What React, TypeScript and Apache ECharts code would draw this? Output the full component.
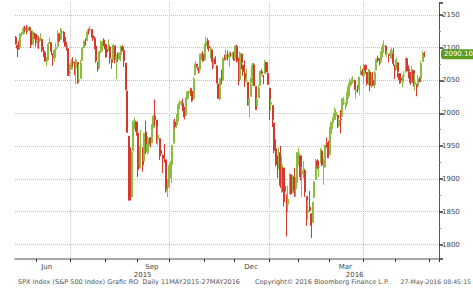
import React, { useEffect, useRef } from "react";
import * as echarts from "echarts";

const FONT = "DejaVu Sans";

// Trading days shown (month -> days)
const tradingDays: [string, number[]][] = [
  ["2015-05", [11, 12, 13, 14, 15, 18, 19, 20, 21, 22, 26, 27, 28, 29]],
  ["2015-06", [1, 2, 3, 4, 5, 8, 9, 10, 11, 12, 15, 16, 17, 18, 19, 22, 23, 24, 25, 26, 29, 30]],
  ["2015-07", [1, 2, 6, 7, 8, 9, 10, 13, 14, 15, 16, 17, 20, 21, 22, 23, 24, 27, 28, 29, 30, 31]],
  ["2015-08", [3, 4, 5, 6, 7, 10, 11, 12, 13, 14, 17, 18, 19, 20, 21, 24, 25, 26, 27, 28, 31]],
  ["2015-09", [1, 2, 3, 4, 8, 9, 10, 11, 14, 15, 16, 17, 18, 21, 22, 23, 24, 25, 28, 29, 30]],
  ["2015-10", [1, 2, 5, 6, 7, 8, 9, 12, 13, 14, 15, 16, 19, 20, 21, 22, 23, 26, 27, 28, 29, 30]],
  ["2015-11", [2, 3, 4, 5, 6, 9, 10, 11, 12, 13, 16, 17, 18, 19, 20, 23, 24, 25, 27, 30]],
  ["2015-12", [1, 2, 3, 4, 7, 8, 9, 10, 11, 14, 15, 16, 17, 18, 21, 22, 23, 24, 28, 29, 30, 31]],
  ["2016-01", [4, 5, 6, 7, 8, 11, 12, 13, 14, 15, 19, 20, 21, 22, 25, 26, 27, 28, 29]],
  ["2016-02", [1, 2, 3, 4, 5, 8, 9, 10, 11, 12, 16, 17, 18, 19, 22, 23, 24, 25, 26, 29]],
  ["2016-03", [1, 2, 3, 4, 7, 8, 9, 10, 11, 14, 15, 16, 17, 18, 21, 22, 23, 24, 28, 29, 30, 31]],
  ["2016-04", [1, 4, 5, 6, 7, 8, 11, 12, 13, 14, 15, 18, 19, 20, 21, 22, 25, 26, 27, 28, 29]],
  ["2016-05", [2, 3, 4, 5, 6, 9, 10, 11, 12, 13, 16, 17, 18, 19, 20, 23, 24, 25, 26]],
];

// Empty days kept at the right end of the axis
const futureDays: [string, number[]][] = [
  ["2016-05", [27, 30, 31]],
  ["2016-06", [1, 2, 3, 6, 7, 8]],
];

// [open, close, low, high]
const ohlc: number[][] = [
  // May 2015
  [2115.6, 2105.3, 2104.9, 2117.7], [2102.9, 2099.1, 2085.7, 2105.1], [2099.6, 2098.5, 2096.3, 2110.2],
  [2100.4, 2121.1, 2100.4, 2121.5], [2122.1, 2122.7, 2117.3, 2123.9], [2121.3, 2129.2, 2119.6, 2131.8],
  [2129.4, 2127.8, 2124.1, 2133.0], [2127.8, 2125.9, 2120.7, 2134.7], [2125.6, 2130.8, 2123.9, 2133.0],
  [2130.4, 2126.1, 2126.1, 2132.2], [2125.3, 2104.2, 2099.2, 2125.3], [2105.1, 2123.5, 2105.1, 2126.2],
  [2122.3, 2120.8, 2112.8, 2122.3], [2120.7, 2107.4, 2101.4, 2120.7],
  // Jun
  [2108.6, 2111.7, 2099.1, 2119.2], [2110.4, 2109.6, 2098.0, 2117.6], [2110.6, 2114.1, 2110.6, 2121.9],
  [2112.4, 2095.8, 2093.2, 2112.9], [2095.1, 2092.8, 2085.7, 2101.0], [2092.3, 2079.3, 2079.0, 2093.0],
  [2079.1, 2080.2, 2072.1, 2085.6], [2081.1, 2105.2, 2081.1, 2108.5], [2106.2, 2108.9, 2106.2, 2115.0],
  [2107.4, 2094.1, 2088.9, 2107.4], [2091.3, 2084.4, 2072.5, 2091.3], [2084.3, 2096.3, 2079.0, 2097.4],
  [2097.4, 2100.4, 2088.5, 2106.8], [2101.6, 2121.2, 2101.6, 2126.6], [2121.1, 2110.0, 2108.0, 2121.9],
  [2112.5, 2122.9, 2112.5, 2129.9], [2123.2, 2124.2, 2118.9, 2128.0], [2123.6, 2108.6, 2108.3, 2125.1],
  [2109.1, 2102.3, 2101.8, 2116.0], [2102.6, 2101.5, 2095.4, 2108.9], [2098.6, 2057.6, 2056.6, 2098.6],
  [2061.2, 2063.1, 2056.3, 2074.3],
  // Jul
  [2067.0, 2077.4, 2067.0, 2082.8], [2078.0, 2076.8, 2071.4, 2085.1], [2073.0, 2068.8, 2058.4, 2078.6],
  [2069.5, 2081.3, 2044.0, 2083.7], [2077.7, 2046.7, 2044.7, 2077.7], [2049.7, 2051.3, 2049.7, 2074.3],
  [2052.7, 2076.6, 2052.7, 2081.3], [2080.0, 2099.6, 2080.0, 2100.7], [2099.7, 2108.9, 2099.7, 2111.0],
  [2109.0, 2107.4, 2102.7, 2114.1], [2110.5, 2124.3, 2110.5, 2124.4], [2126.8, 2126.6, 2119.9, 2128.9],
  [2126.9, 2128.3, 2124.7, 2132.8], [2127.6, 2119.2, 2115.4, 2128.4], [2118.2, 2114.2, 2110.1, 2118.5],
  [2114.2, 2102.2, 2097.6, 2116.9], [2102.2, 2079.7, 2077.1, 2106.0], [2078.2, 2067.6, 2063.5, 2078.2],
  [2070.0, 2093.3, 2069.1, 2095.6], [2094.0, 2108.6, 2091.5, 2110.6], [2106.8, 2108.6, 2094.1, 2110.5],
  [2111.6, 2104.0, 2102.2, 2114.2],
  // Aug
  [2104.5, 2098.0, 2085.0, 2105.7], [2097.7, 2093.3, 2085.0, 2102.5], [2095.3, 2099.8, 2095.3, 2112.7],
  [2100.9, 2083.6, 2075.5, 2103.3], [2082.6, 2077.6, 2067.9, 2082.6], [2081.0, 2104.2, 2081.0, 2105.4],
  [2102.7, 2084.1, 2076.1, 2102.7], [2081.1, 2086.1, 2052.1, 2089.1], [2086.2, 2083.4, 2078.1, 2092.9],
  [2083.2, 2091.5, 2080.7, 2092.5], [2089.7, 2102.4, 2079.3, 2102.9], [2101.1, 2096.9, 2094.1, 2103.5],
  [2095.7, 2079.6, 2070.5, 2096.2], [2076.6, 2035.7, 2035.7, 2076.6], [2034.1, 1971.0, 1970.9, 2034.1],
  [1965.2, 1893.2, 1867.0, 1965.2], [1898.1, 1867.6, 1867.1, 1948.0], [1872.8, 1940.5, 1872.8, 1943.1],
  [1942.8, 1987.7, 1942.8, 1989.6], [1986.1, 1988.9, 1975.2, 1993.5], [1986.7, 1972.2, 1966.0, 1982.2],
  // Sep
  [1970.1, 1913.9, 1903.1, 1970.1], [1916.5, 1948.9, 1916.5, 1948.9], [1950.8, 1951.1, 1944.2, 1975.0],
  [1947.8, 1921.2, 1911.2, 1947.8], [1927.3, 1969.4, 1927.3, 1970.4], [1971.5, 1942.0, 1937.9, 1988.6],
  [1941.6, 1952.3, 1937.2, 1965.3], [1951.5, 1961.1, 1939.2, 1961.1], [1963.1, 1953.0, 1948.3, 1963.1],
  [1955.1, 1978.1, 1955.1, 1983.2], [1978.0, 1995.3, 1978.0, 1997.3], [1995.3, 1990.2, 1980.9, 2020.9],
  [1989.7, 1958.0, 1953.7, 1989.7], [1960.8, 1967.0, 1951.3, 1979.6], [1961.4, 1942.7, 1929.2, 1961.4],
  [1943.2, 1938.8, 1934.3, 1949.5], [1934.8, 1932.2, 1908.9, 1937.2], [1935.9, 1931.3, 1924.9, 1952.9],
  [1929.2, 1881.8, 1879.2, 1929.2], [1881.9, 1884.1, 1872.0, 1899.5], [1887.1, 1920.0, 1887.1, 1920.5],
  // Oct
  [1919.7, 1923.8, 1900.7, 1927.2], [1921.8, 1951.4, 1893.7, 1951.4], [1954.3, 1987.1, 1954.3, 1989.2],
  [1986.6, 1979.9, 1976.4, 1991.6], [1982.3, 1995.8, 1977.7, 1999.3], [1994.0, 2013.4, 1987.5, 2016.5],
  [2013.7, 2014.9, 2005.9, 2020.1], [2015.7, 2017.5, 2010.9, 2018.7], [2015.0, 2003.7, 2003.4, 2022.3],
  [2003.7, 1994.2, 1990.7, 2009.6], [1996.5, 2023.9, 1996.5, 2024.2], [2024.4, 2033.1, 2020.5, 2033.5],
  [2031.7, 2033.7, 2022.3, 2034.5], [2033.1, 2030.8, 2026.6, 2039.1], [2033.5, 2018.9, 2017.2, 2038.0],
  [2021.9, 2052.5, 2021.9, 2055.2], [2058.2, 2075.2, 2058.2, 2079.7], [2075.1, 2071.2, 2069.1, 2075.1],
  [2068.8, 2065.9, 2060.6, 2070.4], [2066.5, 2090.4, 2061.5, 2090.4], [2088.4, 2089.4, 2081.4, 2092.5],
  [2090.0, 2079.4, 2079.1, 2094.3],
  // Nov
  [2080.8, 2104.1, 2080.8, 2106.2], [2102.6, 2109.8, 2097.1, 2116.5], [2110.6, 2102.3, 2097.8, 2114.6],
  [2101.7, 2099.9, 2094.3, 2108.8], [2098.6, 2099.2, 2083.7, 2101.9], [2096.6, 2078.6, 2066.7, 2096.6],
  [2077.2, 2081.7, 2069.3, 2083.7], [2083.4, 2075.0, 2074.9, 2086.9], [2072.3, 2046.0, 2045.7, 2072.3],
  [2044.6, 2023.0, 2022.0, 2044.6], [2022.1, 2053.2, 2019.4, 2053.2], [2053.7, 2050.4, 2044.0, 2066.7],
  [2051.0, 2083.6, 2051.0, 2085.3], [2083.7, 2081.2, 2080.8, 2089.1], [2082.8, 2089.2, 2082.8, 2097.1],
  [2089.4, 2086.6, 2080.4, 2095.6], [2084.4, 2089.1, 2070.3, 2094.1], [2089.3, 2088.9, 2086.1, 2093.0],
  [2088.8, 2090.1, 2082.9, 2093.3], [2091.0, 2080.4, 2080.3, 2093.8],
  // Dec
  [2082.9, 2102.6, 2082.9, 2103.4], [2101.7, 2079.5, 2077.1, 2104.3], [2080.7, 2049.6, 2042.4, 2085.0],
  [2051.2, 2091.7, 2051.2, 2093.8], [2090.4, 2077.1, 2066.8, 2090.4], [2073.4, 2063.6, 2056.8, 2073.9],
  [2061.2, 2047.6, 2040.0, 2080.3], [2047.9, 2052.2, 2047.9, 2067.7], [2047.3, 2012.4, 2012.0, 2047.3],
  [2013.4, 2021.9, 1993.3, 2022.9], [2025.6, 2043.4, 2025.6, 2053.9], [2046.5, 2073.1, 2042.2, 2076.7],
  [2073.8, 2041.9, 2041.7, 2076.4], [2040.8, 2005.6, 2005.6, 2040.8], [2010.3, 2021.2, 2010.3, 2022.9],
  [2023.2, 2039.0, 2023.2, 2042.7], [2042.2, 2064.3, 2042.2, 2064.7], [2063.5, 2061.0, 2058.7, 2067.4],
  [2057.8, 2056.5, 2044.2, 2057.8], [2060.5, 2078.4, 2060.5, 2081.6], [2077.3, 2063.4, 2062.5, 2077.3],
  [2060.6, 2043.9, 2043.6, 2062.5],
  // Jan 2016
  [2038.2, 2012.7, 1989.7, 2038.2], [2013.8, 2016.7, 2004.2, 2021.9], [2011.7, 1990.3, 1979.1, 2011.7],
  [1985.3, 1943.1, 1938.8, 1985.3], [1946.0, 1922.0, 1918.5, 1960.4], [1926.1, 1923.7, 1901.1, 1935.7],
  [1927.8, 1938.7, 1914.4, 1947.4], [1940.3, 1890.3, 1886.4, 1950.3], [1891.7, 1921.8, 1878.9, 1934.5],
  [1916.7, 1880.3, 1857.8, 1916.7], [1888.7, 1881.3, 1864.6, 1901.4], [1876.2, 1859.3, 1812.3, 1876.2],
  [1861.5, 1869.0, 1849.0, 1889.9], [1877.4, 1906.9, 1877.4, 1908.9], [1906.3, 1877.1, 1876.0, 1906.3],
  [1878.8, 1903.6, 1878.8, 1906.3], [1902.5, 1882.9, 1872.7, 1917.0], [1885.2, 1893.4, 1872.7, 1903.0],
  [1894.0, 1940.2, 1894.0, 1940.2],
  // Feb
  [1936.9, 1939.4, 1920.3, 1947.2], [1935.3, 1903.0, 1897.8, 1935.3], [1907.1, 1912.5, 1872.7, 1918.0],
  [1911.7, 1915.5, 1900.8, 1927.4], [1913.1, 1880.1, 1872.7, 1913.1], [1873.3, 1853.4, 1828.5, 1873.3],
  [1848.5, 1852.2, 1838.3, 1868.3], [1857.1, 1851.9, 1850.2, 1881.6], [1847.0, 1829.1, 1810.1, 1847.0],
  [1833.4, 1864.8, 1833.4, 1864.8], [1871.4, 1895.6, 1871.4, 1895.8], [1898.8, 1926.8, 1898.8, 1930.7],
  [1927.6, 1917.8, 1915.1, 1930.0], [1916.7, 1917.8, 1902.8, 1918.8], [1924.4, 1945.5, 1924.4, 1946.7],
  [1942.4, 1921.3, 1919.4, 1942.4], [1917.6, 1929.8, 1891.0, 1932.1], [1931.9, 1951.7, 1917.7, 1951.8],
  [1955.0, 1948.1, 1947.1, 1963.0], [1947.1, 1932.2, 1931.8, 1958.3],
  // Mar
  [1937.1, 1978.4, 1937.1, 1978.4], [1976.6, 1986.5, 1969.0, 1986.5], [1985.6, 1993.4, 1980.3, 1993.7],
  [1994.0, 2000.0, 1989.7, 2009.1], [1996.1, 2001.8, 1990.1, 2006.1], [1996.9, 1979.3, 1977.4, 1996.9],
  [1981.4, 1989.3, 1979.2, 1992.4], [1991.0, 1989.6, 1969.3, 2005.1], [1994.7, 2022.2, 1994.7, 2022.4],
  [2019.3, 2019.6, 2012.7, 2024.6], [2015.3, 2015.9, 2005.2, 2015.9], [2014.2, 2027.2, 2010.0, 2032.0],
  [2026.9, 2040.6, 2022.5, 2046.0], [2041.2, 2049.6, 2041.2, 2052.4], [2047.9, 2051.6, 2042.6, 2053.9],
  [2048.6, 2049.8, 2045.2, 2056.6], [2049.8, 2036.7, 2035.7, 2051.4], [2032.5, 2035.9, 2022.5, 2036.0],
  [2037.9, 2037.1, 2031.5, 2042.7], [2035.8, 2055.0, 2027.0, 2055.9], [2058.3, 2063.9, 2058.3, 2072.2],
  [2063.8, 2059.7, 2057.0, 2067.9],
  // Apr
  [2056.6, 2072.8, 2044.0, 2075.1], [2073.2, 2066.1, 2060.2, 2074.0], [2062.5, 2045.2, 2042.1, 2062.5],
  [2045.6, 2066.7, 2042.6, 2067.3], [2063.0, 2041.9, 2033.8, 2063.0], [2045.5, 2047.6, 2038.5, 2060.6],
  [2050.2, 2042.0, 2041.7, 2062.9], [2043.7, 2061.7, 2038.4, 2065.1], [2065.9, 2082.4, 2065.9, 2083.2],
  [2082.9, 2082.8, 2078.0, 2087.8], [2083.1, 2080.7, 2073.0, 2083.2], [2078.8, 2094.3, 2075.6, 2094.7],
  [2096.1, 2100.8, 2085.1, 2104.9], [2101.5, 2102.4, 2091.7, 2111.1], [2102.1, 2091.5, 2089.4, 2103.8],
  [2091.5, 2091.6, 2085.9, 2094.3], [2089.4, 2087.8, 2077.5, 2089.4], [2089.8, 2091.7, 2083.4, 2096.9],
  [2092.6, 2095.2, 2082.9, 2099.9], [2090.9, 2075.8, 2071.9, 2099.1], [2071.8, 2065.3, 2052.3, 2073.9],
  // May
  [2067.2, 2081.4, 2066.8, 2084.9], [2077.2, 2063.4, 2054.6, 2077.2], [2060.3, 2051.1, 2045.0, 2060.3],
  [2052.9, 2050.6, 2045.6, 2060.2], [2047.8, 2057.1, 2039.5, 2057.7], [2057.6, 2058.7, 2050.6, 2064.2],
  [2062.6, 2084.4, 2062.6, 2084.9], [2083.3, 2064.5, 2064.2, 2083.3], [2067.2, 2064.1, 2053.1, 2073.0],
  [2062.5, 2046.6, 2043.1, 2062.5], [2046.5, 2066.7, 2046.5, 2071.9], [2065.0, 2047.2, 2040.8, 2065.7],
  [2044.4, 2047.6, 2034.5, 2060.6], [2044.2, 2040.0, 2025.9, 2044.2], [2041.9, 2052.3, 2041.9, 2058.4],
  [2052.2, 2048.0, 2047.5, 2055.6], [2052.6, 2076.1, 2052.6, 2079.7], [2078.9, 2090.5, 2078.9, 2094.7],
  [2091.4, 2090.1, 2085.4, 2094.1],
];

const monthLabelDates = ["2015-06-09", "2015-09-15", "2015-12-15", "2016-03-15"];
const monthLabelTexts = ["Jun", "Sep", "Dec", "Mar"];
const yearLabelDates = ["2015-09-04", "2016-03-23"];
const yearLabelTexts = ["2015", "2016"];
const quarterMonths = [1, 4, 7, 10];

const footerLeft = "SPX Index (S&P 500 Index) Grafic RO  Daily 11MAY2015-27MAY2016";
const footerMid = "Copyright\u00A9 2016 Bloomberg Finance L.P.";
const footerRight = "27-May-2016 08:45:15";

const pad = (n: number) => (n < 10 ? "0" + n : "" + n);
const expand = (list: [string, number[]][]) =>
  list.flatMap(([m, ds]) => ds.map((d) => `${m}-${pad(d)}`));

export default function App() {
  const ref = useRef<HTMLDivElement>(null);

  useEffect(() => {
    if (!ref.current) return;
    const chart = echarts.init(ref.current, undefined, { renderer: "svg" });

    const dates = [...expand(tradingDays), ...expand(futureDays)];
    const monthStart = new Set<number>();
    const quarterStart = new Set<number>();
    dates.forEach((d, i) => {
      if (i === 0) return;
      if (d.slice(0, 7) !== dates[i - 1].slice(0, 7)) {
        monthStart.add(i);
        if (quarterMonths.includes(parseInt(d.slice(5, 7), 10))) quarterStart.add(i);
      }
    });
    const monthLbl: Record<string, string> = {};
    monthLabelDates.forEach((d, i) => (monthLbl[d] = monthLabelTexts[i]));
    const yearLbl: Record<string, string> = {};
    yearLabelDates.forEach((d, i) => (yearLbl[d] = yearLabelTexts[i]));
    const lastClose = ohlc[ohlc.length - 1][1];

    chart.setOption({
      animation: false,
      backgroundColor: "#ffffff",
      textStyle: { fontFamily: FONT },
      grid: { left: 15, right: 34, top: 3, bottom: 31, containLabel: false },
      xAxis: [
        {
          type: "category",
          data: dates,
          boundaryGap: true,
          axisLine: { lineStyle: { color: "#8c8c8c", width: 1.5 } },
          axisTick: {
            show: true,
            interval: (i: number) => monthStart.has(i),
            length: 3,
            lineStyle: { color: "#333" },
          },
          axisLabel: {
            interval: (i: number, v: string) => v in monthLbl,
            formatter: (v: string) => monthLbl[v] || "",
            fontSize: 7,
            color: "#444",
            margin: 4,
            fontFamily: FONT,
          },
          splitLine: {
            show: true,
            interval: (i: number) => quarterStart.has(i),
            lineStyle: { color: "#c2c2c2", type: "dotted" },
          },
        },
        {
          type: "category",
          data: dates,
          boundaryGap: true,
          position: "bottom",
          offset: 8,
          axisLine: { show: false },
          axisTick: { show: false },
          splitLine: { show: false },
          axisLabel: {
            interval: (i: number, v: string) => v in yearLbl,
            formatter: (v: string) => yearLbl[v] || "",
            fontSize: 7,
            color: "#444",
            margin: 4,
            fontFamily: FONT,
          },
        },
      ],
      yAxis: {
        type: "value",
        position: "right",
        min: 1778,
        max: 2168,
        splitNumber: 8,
        axisLine: { show: true, lineStyle: { color: "#555", width: 1 } },
        axisTick: { show: true, length: 4, lineStyle: { color: "#333", width: 1.5 } },
        minorTick: { show: true, splitNumber: 2, length: 2, lineStyle: { color: "#888" } },
        axisLabel: {
          showMinLabel: false,
          showMaxLabel: false,
          formatter: (v: number) => String(Math.round(v)),
          fontSize: 7,
          color: "#444",
          margin: 3,
          fontFamily: FONT,
        },
        splitLine: {
          show: true,
          showMinLine: false,
          showMaxLine: false,
          lineStyle: { color: "#c2c2c2", type: "dotted" },
        },
      },
      series: [
        {
          type: "candlestick",
          data: ohlc,
          barWidth: 1.6,
          itemStyle: {
            color: "#8cbc3e",
            color0: "#d4392c",
            borderColor: "#8cbc3e",
            borderColor0: "#d4392c",
            borderWidth: 1,
          },
          markLine: {
            silent: true,
            symbol: ["none", "none"],
            lineStyle: { color: "rgba(0,0,0,0)", width: 1, type: "solid" },
            data: [{ yAxis: lastClose }],
            label: {
              show: true,
              position: "end",
              distance: 2,
              formatter: () => lastClose.toFixed(2),
              backgroundColor: "#5e9c22",
              color: "#ffffff",
              opacity: 1,
              fontSize: 7,
              fontFamily: FONT,
              padding: [2, 3, 1, 3],
              borderRadius: 3,
            },
          },
        },
      ],
      graphic: [
        {
          type: "text",
          left: 18,
          top: 278,
          style: { text: footerLeft, fill: "#555", fontSize: 6.5, fontFamily: FONT },
        },
        {
          type: "text",
          left: 255,
          top: 278,
          style: { text: footerMid, fill: "#555", fontSize: 6.5, fontFamily: FONT },
        },
        {
          type: "text",
          right: 2,
          top: 278,
          style: { text: footerRight, fill: "#555", fontSize: 6.2, fontFamily: FONT },
        },
      ],
    });

    return () => chart.dispose();
  }, []);

  return (
    <div
      ref={ref}
      style={{ position: "fixed", left: 0, top: 0, width: 473, height: 290 }}
    />
  );
}
